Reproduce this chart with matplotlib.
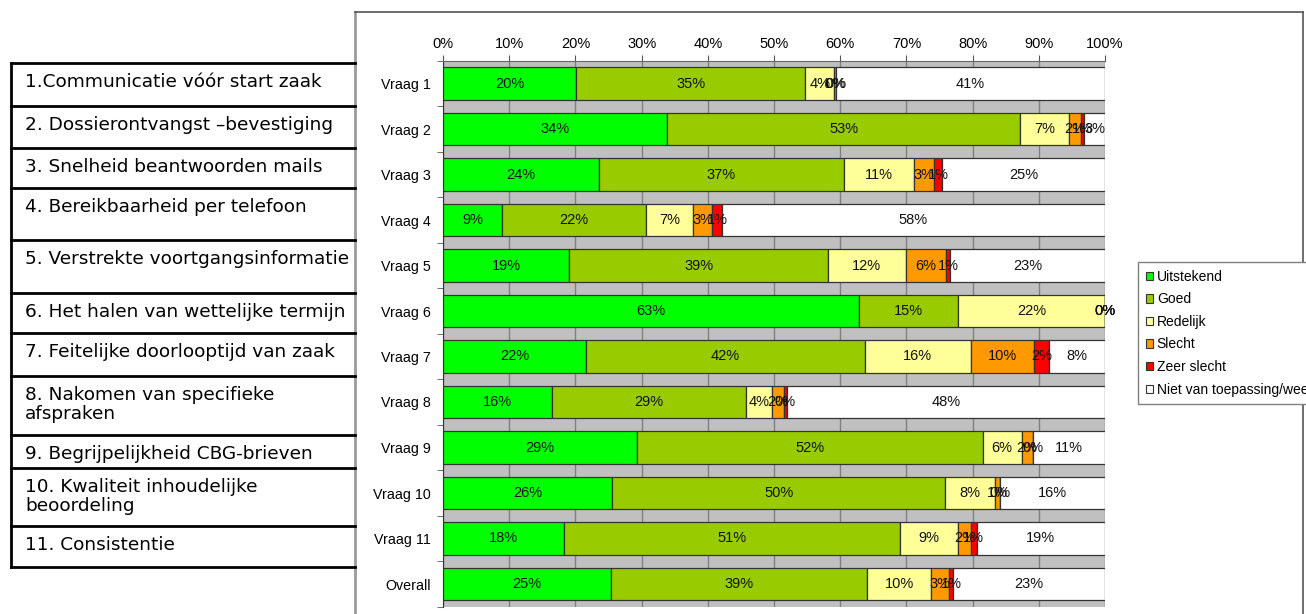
import matplotlib
matplotlib.use('Agg')
import matplotlib.pyplot as plt
from matplotlib.patches import Patch
from matplotlib.lines import Line2D
import numpy as np

# data (percent per answer category)
vragen = ['Vraag 1', 'Vraag 2', 'Vraag 3', 'Vraag 4', 'Vraag 5', 'Vraag 6',
          'Vraag 7', 'Vraag 8', 'Vraag 9', 'Vraag 10', 'Vraag 11', 'Overall']
uitstekend = [20.1, 33.9, 23.6, 8.9, 19.1, 62.8, 21.6, 16.4, 29.3, 25.6, 18.3, 25.4]
goed = [34.6, 53.3, 36.9, 21.8, 39.0, 15.0, 42.1, 29.4, 52.2, 50.2, 50.7, 38.7]
redelijk = [4.4, 7.3, 10.7, 7.1, 11.8, 22.2, 16.0, 3.9, 5.9, 7.6, 8.8, 9.6]
slecht = [0.3, 1.8, 3.0, 2.9, 6.1, 0.0, 9.6, 1.8, 1.7, 0.8, 1.9, 2.7]
zeer_slecht = [0.0, 0.6, 1.2, 1.4, 0.6, 0.0, 2.3, 0.4, 0.0, 0.0, 0.9, 0.7]
niet_van_toepassing = [40.6, 3.1, 24.6, 57.9, 23.4, 0.0, 8.4, 48.1, 10.9, 15.8, 19.4, 22.9]

series_names = ['Uitstekend', 'Goed', 'Redelijk', 'Slecht', 'Zeer slecht',
                'Niet van toepassing/weet niet']
colors = ['#00ff00', '#99cc00', '#ffff99', '#ff9900', '#ff0000', '#ffffff']

vragen_tekst = ['1.Communicatie vóór start zaak',
                '2. Dossierontvangst \u2013bevestiging',
                '3. Snelheid beantwoorden mails',
                '4. Bereikbaarheid per telefoon',
                '5. Verstrekte voortgangsinformatie',
                '6. Het halen van wettelijke termijn',
                '7. Feitelijke doorlooptijd van zaak',
                '8. Nakomen van specifieke\nafspraken',
                '9. Begrijpelijkheid CBG-brieven',
                '10. Kwaliteit inhoudelijke\nbeoordeling',
                '11. Consistentie']

W, H = 1306, 614


def fx(x):
    return x / W


def fy(y):
    return 1 - y / H


fig = plt.figure(figsize=(W / 100, H / 100), dpi=100)
fig.patch.set_facecolor('white')

# chart area frame
fig.add_artist(Line2D([fx(355), fx(355)], [fy(12), fy(620)], color='#9a9a9a', lw=2))
fig.add_artist(Line2D([fx(355), fx(1303)], [fy(12), fy(12)], color='#555555', lw=1.2))
fig.add_artist(Line2D([fx(1303), fx(1303)], [fy(12), fy(620)], color='#555555', lw=1.2))

ax = fig.add_axes([fx(443), fy(606.75), fx(1105) - fx(443), (606.75 - 60.75) / H])
ax.set_facecolor('#c0c0c0')

all_series = [uitstekend, goed, redelijk, slecht, zeer_slecht, niet_van_toepassing]
ypos = np.arange(len(vragen))
left = np.zeros(len(vragen))
for vals, c in zip(all_series, colors):
    vals = np.array(vals)
    ax.barh(ypos, vals, left=left, height=0.725, color=c, edgecolor='#333333',
            linewidth=0.9, zorder=3)
    for yi, (l, v) in enumerate(zip(left, vals)):
        ax.text(l + v / 2, yi, f'{round(v)}%', ha='center', va='center',
                fontsize=10.5, family='Liberation Sans', color='#111111', zorder=4)
    left = left + vals

ax.set_xlim(0, 100)
ax.set_ylim(len(vragen) - 0.5, -0.5)
ax.xaxis.tick_top()
ax.set_xticks(np.arange(0, 101, 10))
ax.set_xticklabels([f'{t}%' for t in range(0, 101, 10)], family='Liberation Sans', fontsize=10.5)
ax.tick_params(axis='x', length=4, pad=3, color='#555555')
ax.set_yticks(ypos)
ax.set_yticklabels(vragen, family='Liberation Sans', fontsize=10.3)
ax.tick_params(axis='y', which='major', length=0, pad=9)
ax.set_yticks(np.arange(-0.5, len(vragen), 1), minor=True)
ax.tick_params(axis='y', which='minor', length=4, color='#555555')
ax.grid(axis='x', color='#808080', lw=1, zorder=1)
ax.set_axisbelow(True)
for s in ['right', 'bottom']:
    ax.spines[s].set_visible(False)
ax.spines['top'].set_color('#666666')
ax.spines['left'].set_color('#333333')

# legend
handles = [Patch(facecolor=c, edgecolor='#333333', lw=0.8) for c in colors]
leg = fig.legend(handles, series_names, loc='upper left',
                 bbox_to_anchor=(fx(1138), fy(262)), bbox_transform=fig.transFigure,
                 borderaxespad=0, fancybox=False, framealpha=1, edgecolor='#808080',
                 prop={'family': 'Liberation Sans', 'size': 10},
                 handlelength=0.55, handleheight=0.55, handletextpad=0.25,
                 labelspacing=0.62, borderpad=0.55)
leg.get_frame().set_linewidth(1)

# question table on the left
edges = [63, 106, 148, 188, 240, 293, 333, 376, 435, 468, 526, 567]
for e in edges:
    fig.add_artist(Line2D([fx(11), fx(355)], [fy(e), fy(e)], color='black', lw=2))
fig.add_artist(Line2D([fx(11), fx(11)], [fy(63), fy(567)], color='black', lw=2))
for i, txt in enumerate(vragen_tekst):
    fig.text(fx(25), fy(edges[i] + 10), txt, ha='left', va='top', fontsize=13.3,
             family='DejaVu Sans', linespacing=1.05)

fig.savefig('out.png', dpi=100)
